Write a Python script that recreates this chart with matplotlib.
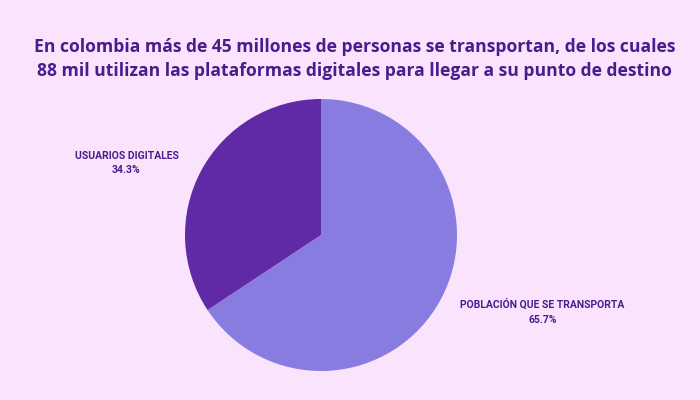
import matplotlib.pyplot as plt

labels = ["POBLACIÓN QUE SE TRANSPORTA", "USUARIOS DIGITALES"]
values = [65.7, 34.3]
colors = ["#897CE0", "#6029A6"]
title = ("En colombia más de 45 millones de personas se transportan, de los cuales\n"
         "88 mil utilizan las plataformas digitales para llegar a su punto de destino")

bg = "#F9E3FD"
txt = "#4A1C8C"

fig = plt.figure(figsize=(7, 4), dpi=100, facecolor=bg)
ax = fig.add_axes([185 / 700, 29 / 400, 272 / 700, 272 / 400])
ax.set_facecolor(bg)
ax.pie(values, colors=colors, startangle=90, counterclock=False,
       wedgeprops=dict(linewidth=0))
ax.set_xlim(-1, 1)
ax.set_ylim(-1, 1)
ax.set_aspect("equal")

# label positions in pie units
pos = [(1.63, -0.565), (-1.43, 0.53)]
for (x, y), lab, v in zip(pos, labels, values):
    ax.text(x, y, f"{lab}\n{v}%", ha="center", va="center", fontsize=7.5,
            fontweight="bold", color=txt, family="Roboto", linespacing=1.6,
            clip_on=False)

fig.text(0.507, 0.852, title, ha="center", va="center", fontsize=12.6,
         fontweight="bold", color=txt, family="Open Sans", linespacing=1.4)

fig.savefig("out.png", facecolor=bg)
